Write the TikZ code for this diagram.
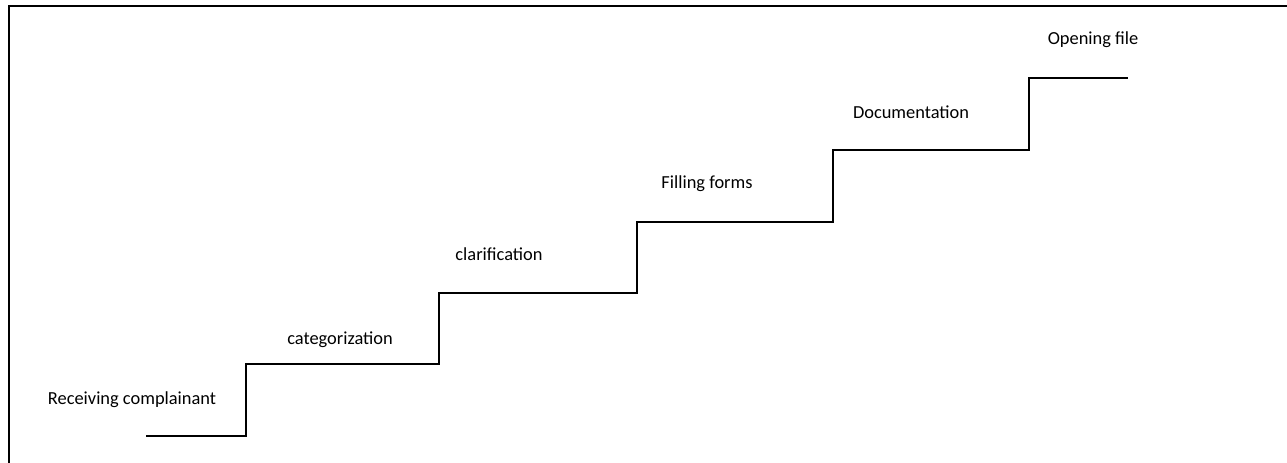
\documentclass[tikz,border=0pt]{standalone}
\usepackage{fontspec}
\setmainfont{Carlito}
\begin{document}
\begin{tikzpicture}[x=0.75pt,y=-0.75pt,
  stair/.style={line width=1.4pt,line join=miter},
  frame/.style={line width=1.6pt},
  lbl/.style={font=\fontsize{13.8}{16}\selectfont,inner sep=0pt,anchor=center}]
\useasboundingbox (0,0) rectangle (1287,463);
% frame (top and left only)
\draw[frame] (9,463) -- (9,6) -- (1287,6);
% stair corner coordinates
\coordinate (s0) at (146,436);
\coordinate (c1) at (246,436);
\coordinate (c2) at (246,364);
\coordinate (c3) at (439,364);
\coordinate (c4) at (439,293);
\coordinate (c5) at (637,293);
\coordinate (c6) at (637,222);
\coordinate (c7) at (833,222);
\coordinate (c8) at (833,150);
\coordinate (c9) at (1029,150);
\coordinate (c10) at (1029,78);
\coordinate (e) at (1128,78);
\draw[stair] (s0) -- (c1) -- (c2) -- (c3) -- (c4) -- (c5) -- (c6) -- (c7) -- (c8) -- (c9) -- (c10) -- (e);
% labels
\node[lbl] (l1) at (132,400) {Receiving complainant};
\node[lbl] (l2) at (340,340) {categorization};
\node[lbl] (l3) at (499,254) {clarification};
\node[lbl] (l4) at (707,184) {Filling forms};
\node[lbl] (l5) at (911,112) {Documentation};
\node[lbl] (l6) at (1093,40) {Opening file};
\end{tikzpicture}
\end{document}
